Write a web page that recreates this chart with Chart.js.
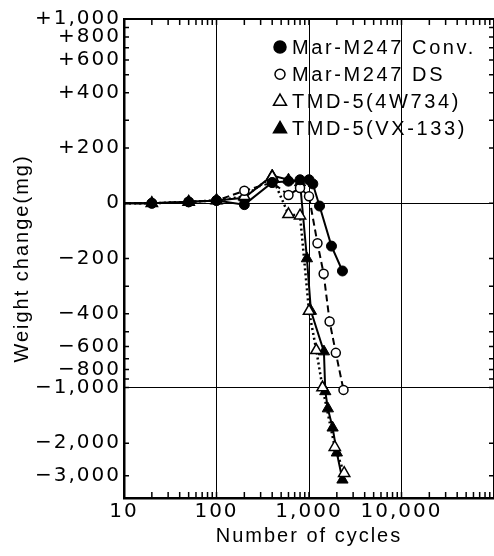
<!DOCTYPE html>
<html>
<head>
<meta charset="utf-8">
<title>Weight change vs number of cycles</title>
<script src="https://cdn.jsdelivr.net/npm/chart.js@4.4.1/dist/chart.umd.min.js"></script>
<style>
  html, body { margin: 0; padding: 0; background: #fff; }
  canvas { display: block; }
</style>
</head>
<body>
<canvas id="chart" width="494" height="556"></canvas>
<script>
// values (cycles, weight change in mg)
const convCycles = [10, 20, 50, 100, 200, 400, 600, 800, 1000, 1100, 1300, 1750, 2300];
const convWeight = [0, 0, 5, 10, -5, 75, 80, 85, 85, 70, -10, -155, -245];

const dsCycles = [10, 20, 50, 100, 200, 400, 600, 800, 1000, 1235, 1440, 1670, 1950, 2360];
const dsWeight = [0, 0, 5, 10, 45, 75, 30, 55, 25, -145, -255, -440, -650, -1030];

const w734Cycles = [10, 20, 50, 100, 200, 400, 600, 800, 1000, 1200, 1400, 1900, 2400];
const w734Weight = [0, 0, 5, 10, 25, 95, -40, -45, -390, -630, -1000, -2100, -2900];

const vx133Cycles = [10, 20, 50, 100, 200, 400, 600, 800, 950, 1050, 1450, 1500, 1600, 1800, 2000, 2300];
const vx133Weight = [0, 0, 5, 10, 20, 100, 85, 75, -200, -390, -640, -1050, -1300, -1650, -2250, -3150];

const seriesLabels = ['Mar-M247 Conv.', 'Mar-M247 DS', 'TMD-5(4W734)', 'TMD-5(VX-133)'];

const xMajorTicks = [10, 100, 1000, 10000];
const xTickLabels = ['10', '100', '1,000', '10,000'];
const yMajorTicks = [1000, 800, 600, 400, 200, 0, -200, -400, -600, -800, -1000, -2000, -3000];
const yTickLabels = ['+1,000', '+800', '+600', '+400', '+200', '0', '\u2212200', '\u2212400',
  '\u2212600', '\u2212800', '\u22121,000', '\u22122,000', '\u22123,000'];
const yMinorTicks = [900, 700, 500, 300, -300, -500, -700, -900];

// weight axis of the paper: linear between -400 and +400, logarithmic beyond
const LIN_LIMIT = 400;
const UNITS_PER_DECADE = 3.35; // in 200 mg steps of the linear part

function fwd(v) {
  const a = Math.abs(v);
  const u = a <= LIN_LIMIT ? a / 200 : LIN_LIMIT / 200 + Math.log10(a / LIN_LIMIT) * UNITS_PER_DECADE;
  return v < 0 ? -u : u;
}
function inv(u) {
  const a = Math.abs(u);
  const v = a <= LIN_LIMIT / 200 ? a * 200 : LIN_LIMIT * Math.pow(10, (a - LIN_LIMIT / 200) / UNITS_PER_DECADE);
  return u < 0 ? -v : v;
}

class WeightScale extends Chart.LinearScale {
  static id = 'weight';
  static defaults = {};
  determineDataLimits() {
    this.min = this.options.min;
    this.max = this.options.max;
  }
  buildTicks() {
    return yMajorTicks.concat(yMinorTicks).map((v) => ({ value: v }));
  }
  configure() {
    super.configure();
    this._u0 = fwd(this.min);
    this._u1 = fwd(this.max);
  }
  getPixelForValue(v) {
    return this.getPixelForDecimal((fwd(v) - this._u0) / (this._u1 - this._u0));
  }
  getValueForPixel(p) {
    return inv(this._u0 + this.getDecimalForPixel(p) * (this._u1 - this._u0));
  }
  drawLabels(area) {
    this.ctx.save();
    this.ctx.letterSpacing = '2px';
    super.drawLabels(area);
    this.ctx.restore();
  }
  drawTitle() {
    this.ctx.save();
    this.ctx.letterSpacing = '2px';
    super.drawTitle();
    this.ctx.restore();
  }
}

class CyclesScale extends Chart.LogarithmicScale {
  static id = 'cycles';
  static defaults = {};
  drawLabels(area) {
    this.ctx.save();
    this.ctx.letterSpacing = '2px';
    super.drawLabels(area);
    this.ctx.restore();
  }
  drawTitle() {
    this.ctx.save();
    this.ctx.letterSpacing = '2px';
    super.drawTitle();
    this.ctx.restore();
  }
}

Chart.register(WeightScale, CyclesScale);

// inward tick marks on all four sides plus the box
const framePlugin = {
  id: 'frame',
  afterDatasetsDraw(chart) {
    const { ctx, chartArea: a, scales: { x, y } } = chart;
    ctx.save();
    ctx.strokeStyle = '#000';
    ctx.lineWidth = 1.5;
    ctx.beginPath();
    x.ticks.forEach((t) => {
      const px = x.getPixelForValue(t.value);
      ctx.moveTo(px, a.bottom);
      ctx.lineTo(px, a.bottom - 6);
      ctx.moveTo(px, a.top);
      ctx.lineTo(px, a.top + 6);
    });
    y.ticks.forEach((t) => {
      const py = y.getPixelForValue(t.value);
      ctx.moveTo(a.left, py);
      ctx.lineTo(a.left + 5, py);
      ctx.moveTo(a.right, py);
      ctx.lineTo(a.right - 5, py);
    });
    ctx.stroke();
    ctx.lineWidth = 2;
    ctx.strokeRect(a.left, a.top, a.right - a.left, a.bottom - a.top);
    ctx.restore();
  }
};

// legend inside the plot, top right, markers only
const legendPlugin = {
  id: 'insideLegend',
  afterDraw(chart) {
    const { ctx, chartArea: a } = chart;
    ctx.save();
    ctx.font = '20px "Liberation Sans", Arial, sans-serif';
    ctx.letterSpacing = '2.6px';
    ctx.textBaseline = 'middle';
    ctx.textAlign = 'left';
    chart.data.datasets.forEach((ds, i) => {
      const mx = a.left + 156;
      const my = a.top + 28 + i * 27.3;
      ctx.fillStyle = ds.pointBackgroundColor;
      ctx.strokeStyle = '#000';
      ctx.lineWidth = 1.5;
      const r = ds.pointStyle === 'triangle' ? 7.5 : (ds.pointBackgroundColor === '#000' ? 6 : 5);
      Chart.helpers.drawPoint(ctx, { pointStyle: ds.pointStyle, radius: r, borderWidth: 1.5, rotation: 0 }, mx, my);
      ctx.fillStyle = '#000';
      ctx.fillText(ds.label, mx + 12, my + 1);
    });
    ctx.restore();
  }
};

function points(xs, ys) {
  return xs.map((c, i) => ({ x: c, y: ys[i] }));
}

// no marker on the starting point at the axis
function markerSize(r) {
  return (c) => (c.dataIndex === 0 ? 0 : r);
}

const xTickValues = [];
xMajorTicks.forEach((d) => {
  for (let k = 1; k <= 9; k++) xTickValues.push(k * d);
});
xTickValues.push(100000);

const tickFont = { family: '"DejaVu Sans", sans-serif', size: 20 };
const titleFont = { family: '"Liberation Sans", Arial, sans-serif', size: 20 };

new Chart(document.getElementById('chart'), {
  type: 'line',
  data: {
    datasets: [
      {
        label: seriesLabels[0],
        data: points(convCycles, convWeight),
        borderColor: '#000',
        borderWidth: 2,
        pointStyle: 'circle',
        pointRadius: markerSize(5),
        pointBackgroundColor: '#000',
        pointBorderColor: '#000',
        pointBorderWidth: 1,
      },
      {
        label: seriesLabels[1],
        data: points(dsCycles, dsWeight),
        borderColor: '#000',
        borderWidth: 2,
        borderDash: [7, 4],
        pointStyle: 'circle',
        pointRadius: markerSize(4.5),
        pointBackgroundColor: '#fff',
        pointBorderColor: '#000',
        pointBorderWidth: 1.5,
      },
      {
        label: seriesLabels[2],
        data: points(w734Cycles, w734Weight),
        borderColor: '#000',
        borderWidth: 2.5,
        borderDash: [2, 3],
        pointStyle: 'triangle',
        pointRadius: markerSize(6.5),
        pointBackgroundColor: '#fff',
        pointBorderColor: '#000',
        pointBorderWidth: 1.5,
      },
      {
        label: seriesLabels[3],
        data: points(vx133Cycles, vx133Weight),
        borderColor: '#000',
        borderWidth: 2,
        pointStyle: 'triangle',
        pointRadius: markerSize(6.5),
        pointBackgroundColor: '#000',
        pointBorderColor: '#000',
        pointBorderWidth: 1,
      },
    ],
  },
  options: {
    responsive: false,
    animation: false,
    layout: { autoPadding: false, padding: { top: 19, right: 0, left: 0, bottom: 0 } },
    plugins: { legend: { display: false }, tooltip: { enabled: false } },
    elements: { line: { tension: 0 } },
    scales: {
      x: {
        type: 'cycles',
        min: 10,
        max: 100000,
        afterBuildTicks: (s) => { s.ticks = xTickValues.map((v) => ({ value: v })); },
        afterFit: (s) => {
          s.height = 58;
          s.paddingLeft = 0;
          s.paddingRight = 0;
        },
        grid: {
          drawTicks: false,
          lineWidth: 1,
          color: (c) => (c.tick && xMajorTicks.includes(c.tick.value) ? '#000' : 'rgba(0,0,0,0)'),
        },
        border: { color: '#000', width: 2.5 },
        ticks: {
          autoSkip: false,
          maxRotation: 0,
          padding: 2,
          color: '#000',
          font: tickFont,
          callback: (v) => {
            const i = xMajorTicks.indexOf(v);
            return i >= 0 ? xTickLabels[i] : '';
          },
        },
        title: {
          display: true,
          text: 'Number of cycles',
          color: '#000',
          font: titleFont,
          padding: { top: 0, bottom: 8 },
        },
      },
      y: {
        type: 'weight',
        min: -3950,
        max: 1000,
        afterFit: (s) => { s.width = 124; },
        grid: {
          drawTicks: false,
          lineWidth: 1,
          color: (c) => (c.tick && (c.tick.value === 0 || c.tick.value === -1000) ? '#000' : 'rgba(0,0,0,0)'),
        },
        border: { color: '#000', width: 2.5 },
        ticks: {
          autoSkip: false,
          padding: 3,
          color: '#000',
          font: tickFont,
          callback: (v) => {
            const i = yMajorTicks.indexOf(v);
            return i >= 0 ? yTickLabels[i] : '';
          },
        },
        title: {
          display: true,
          text: 'Weight change(mg)',
          color: '#000',
          font: titleFont,
          padding: { top: 10, bottom: 0 },
        },
      },
    },
  },
  plugins: [framePlugin, legendPlugin],
});
</script>
</body>
</html>
